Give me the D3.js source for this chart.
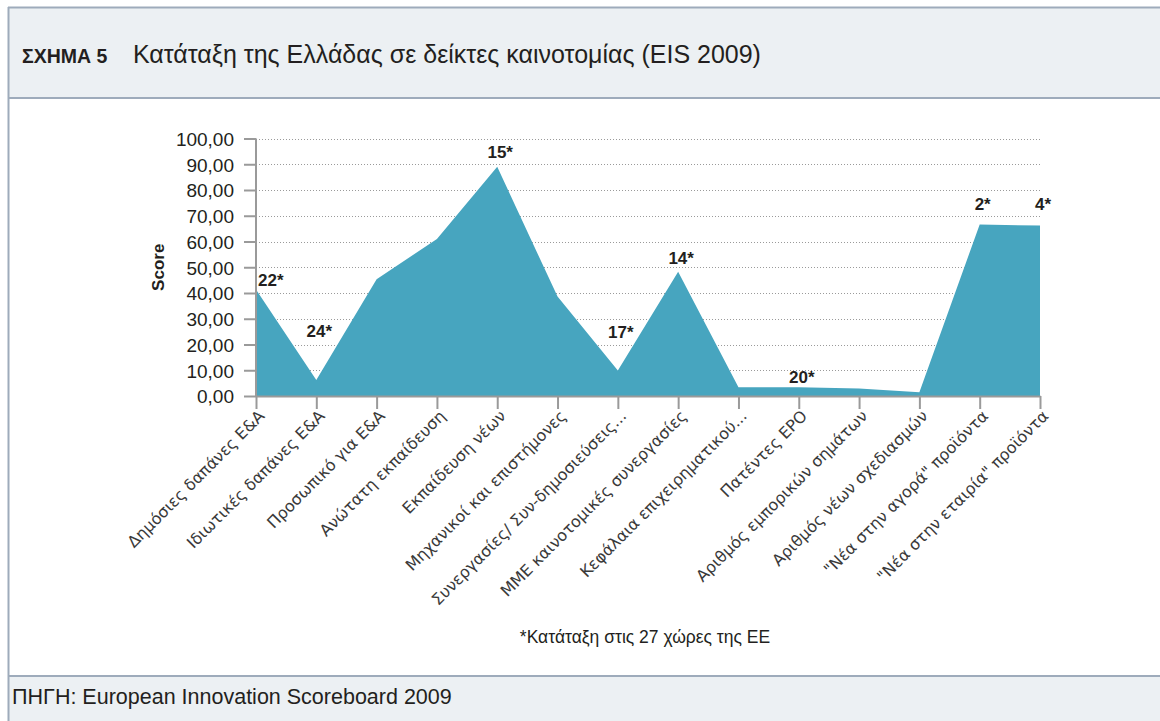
<!DOCTYPE html>
<html><head><meta charset="utf-8">
<script src="https://cdn.jsdelivr.net/npm/d3@7"></script>
<style>
html,body{margin:0;padding:0;background:#fff;}
svg{display:block;}
</style></head>
<body>
<svg id="c" width="1160" height="721"></svg>
<script>
const categories = [
  "Δημόσιες δαπάνες Ε&Α",
  "Ιδιωτικές δαπάνες Ε&Α",
  "Προσωπικό για Ε&Α",
  "Ανώτατη εκπαίδευση",
  "Εκπαίδευση νέων",
  "Μηχανικοί και επιστήμονες",
  "Συνεργασίες/  Συν-δημοσιεύσεις...",
  "ΜΜΕ καινοτομικές συνεργασίες",
  "Κεφάλαια επιχειρηματικού...",
  "Πατέντες ΕΡΟ",
  "Αριθμός εμπορικών σημάτων",
  "Αριθμός νέων σχεδιασμών",
  "\"Νέα στην αγορά\" προϊόντα",
  "\"Νέα στην εταιρία\" προϊόντα"
];
const scores = [41.4, 6.2, 45.3, 61.0, 89.0, 38.6, 9.9, 48.3, 3.4, 3.4, 2.9, 1.5, 66.6, 66.2];
const rankLabels = ["22*", "24*", null, null, "15*", null, "17*", "14*", null, "20*", null, null, "2*", "4*"];
const rankLabelLevels = [45.0, 25.3, null, null, 94.6, null, 25.0, 53.6, null, 7.2, null, null, 74.5, 74.5];
const yTicks = [0, 10, 20, 30, 40, 50, 60, 70, 80, 90, 100];
const titleBold = "ΣΧΗΜΑ 5";
const titleText = "Κατάταξη της Ελλάδας σε δείκτες καινοτομίας (EIS 2009)";
const yAxisTitle = "Score";
const footnote = "*Κατάταξη στις 27 χώρες της ΕΕ";
const sourceText = "ΠΗΓΗ: European Innovation Scoreboard 2009";

const svg = d3.select("#c");
const W = 1160, H = 721;
const borderCol = "#9eabbb";
const bandCol = "#ecf0f3";
const narrow = "'Liberation Sans Narrow','Liberation Sans',sans-serif";

// frame
svg.append("rect").attr("x", 9).attr("y", 8).attr("width", W - 9).attr("height", 90).attr("fill", bandCol);
svg.append("rect").attr("x", 9).attr("y", 676).attr("width", W - 9).attr("height", H - 676).attr("fill", bandCol);
svg.append("line").attr("x1", 8).attr("x2", W).attr("y1", 7.5).attr("y2", 7.5).attr("stroke", borderCol).attr("stroke-width", 2);
svg.append("line").attr("x1", 8).attr("x2", W).attr("y1", 98).attr("y2", 98).attr("stroke", borderCol).attr("stroke-width", 2);
svg.append("line").attr("x1", 8).attr("x2", W).attr("y1", 676).attr("y2", 676).attr("stroke", borderCol).attr("stroke-width", 2);
svg.append("line").attr("x1", 8.5).attr("x2", 8.5).attr("y1", 7).attr("y2", H).attr("stroke", borderCol).attr("stroke-width", 2);

// title
const t = svg.append("text").attr("x", 22).attr("y", 63).attr("fill", "#231f20");
t.append("tspan").attr("font-family", narrow).attr("font-weight", "bold").attr("font-size", 19.5).text(titleBold);
t.append("tspan").attr("x", 133).attr("font-family", narrow).attr("font-size", 25).text(titleText);

// chart
const x = d3.scalePoint().domain(categories).range([256, 1040]);
const y = d3.scaleLinear().domain([0, 100]).range([396, 138.5]);

// gridlines
svg.append("g").selectAll("line").data(yTicks.filter(d => d > 0)).join("line")
  .attr("x1", 256).attr("x2", 1040)
  .attr("y1", d => Math.round(y(d)) + 0.5).attr("y2", d => Math.round(y(d)) + 0.5)
  .attr("stroke", "#9a9a9a").attr("stroke-width", 1).attr("stroke-dasharray", "1,2");

// area
const area = d3.area().x((d, i) => x(categories[i])).y0(y(0)).y1(d => y(d));
svg.append("path").datum(scores).attr("d", area).attr("fill", "#47a5bf");

// axes
const yAxis = d3.axisLeft(y).tickValues(yTicks).tickSize(12).tickFormat(d => d3.format(".2f")(d).replace(".", ","));
const gy = svg.append("g").attr("transform", "translate(256,0)").call(yAxis);
gy.select(".domain").attr("stroke", "#9a9a9a").attr("stroke-width", 2).attr("d", `M0,${y(100)}V${y(0)}`);
gy.selectAll(".tick line").attr("stroke", "#9a9a9a").attr("stroke-width", 2);
gy.selectAll(".tick text").attr("x", -22).attr("dy", "0.36em")
  .attr("font-family", narrow).attr("font-size", 19).attr("fill", "#231f20");

const xAxis = d3.axisBottom(x).tickSize(13).tickSizeOuter(0);
const gx = svg.append("g").attr("transform", `translate(0,${y(0)})`).call(xAxis);
gx.select(".domain").attr("stroke", "#9a9a9a").attr("stroke-width", 2);
gx.selectAll(".tick line").attr("stroke", "#9a9a9a").attr("stroke-width", 2);
gx.selectAll(".tick text")
  .attr("font-family", "'DejaVu Sans',sans-serif").attr("font-size", 16).attr("fill", "#3a3a3a")
  .attr("text-anchor", "end").attr("y", 0).attr("dy", 0)
  .attr("transform", "translate(9,21) rotate(-45)");

// y axis title
svg.append("text").attr("transform", `translate(164,${(y(0) + y(100)) / 2}) rotate(-90)`)
  .attr("text-anchor", "middle").attr("font-family", narrow)
  .attr("font-weight", "bold").attr("font-size", 17).attr("fill", "#231f20").text(yAxisTitle);

// rank labels
svg.append("g").selectAll("text").data(categories.map((c, i) => ({c, lab: rankLabels[i], lv: rankLabelLevels[i], i})).filter(d => d.lab))
  .join("text")
  .attr("x", d => d.i === 0 ? x(d.c) + 2 : x(d.c) + 3)
  .attr("y", d => y(d.lv))
  .attr("dy", "0.35em")
  .attr("text-anchor", d => d.i === 0 ? "start" : "middle")
  .attr("font-family", narrow).attr("font-weight", "bold")
  .attr("font-size", 17).attr("fill", "#231f20").text(d => d.lab);

// footnote & source
svg.append("text").attr("x", 645).attr("y", 643).attr("text-anchor", "middle")
  .attr("font-family", narrow).attr("font-size", 17.5).attr("fill", "#231f20").text(footnote);
svg.append("text").attr("x", 12).attr("y", 704)
  .attr("font-family", narrow).attr("font-size", 21.5).attr("fill", "#231f20").text(sourceText);
</script>
</body></html>
